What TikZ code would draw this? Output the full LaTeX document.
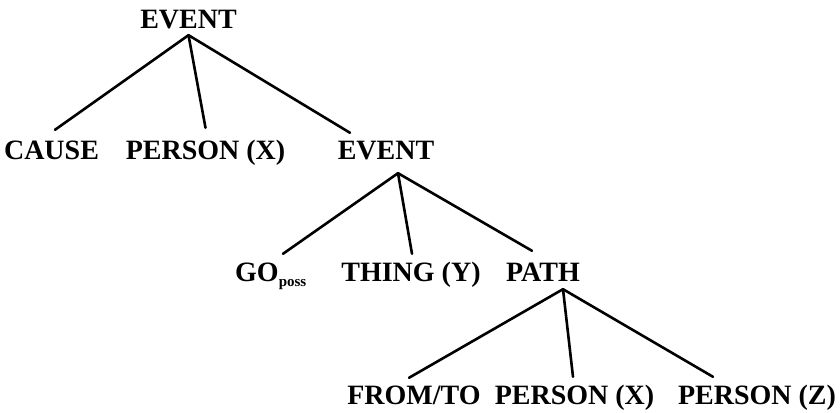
\documentclass[tikz,border=0pt]{standalone}
\usepackage{fontspec}
\setmainfont{Liberation Serif}
\begin{document}
\begin{tikzpicture}[x=1pt,y=-1pt,
  lab/.style={inner sep=0pt,anchor=base,text height=19pt,text depth=0pt,
    font=\fontsize{28}{30}\selectfont\bfseries},
  branch/.style={line width=2.6pt,line cap=round}]
\useasboundingbox (0,0) rectangle (840,412);
% top level
\node[lab] (ev1) at (188.5,29) {EVENT};
\node[lab] (cause) at (51.5,159) {CAUSE};
\node[lab] (px1) at (205.5,159) {PERSON (X)};
\node[lab] (ev2) at (386,159) {EVENT};
% second level
\node[lab,anchor=base west] (go) at (235,281) {GO\raisebox{-5pt}{\fontsize{15}{15}\selectfont poss}};
\node[lab] (thy) at (411,281) {THING (Y)};
\node[lab] (path) at (543,281) {PATH};
% third level
\node[lab] (fromto) at (414,404) {FROM/TO};
\node[lab] (px2) at (574.5,404) {PERSON (X)};
\node[lab] (pz) at (757,404) {PERSON (Z)};
% branches
\draw[branch] ([yshift=-6pt]ev1.south) -- ([xshift=3.5pt,yshift=10pt]cause.north);
\draw[branch] ([yshift=-6pt]ev1.south) -- ([yshift=12pt]px1.north);
\draw[branch] ([yshift=-6pt]ev1.south) -- ([xshift=-36pt,yshift=7pt]ev2.north);
\draw[branch] ([xshift=12pt,yshift=-14pt]ev2.south) -- ([xshift=48pt,yshift=8pt]go.north west);
\draw[branch] ([xshift=12pt,yshift=-14pt]ev2.south) -- ([xshift=1pt,yshift=8pt]thy.north);
\draw[branch] ([xshift=12pt,yshift=-14pt]ev2.south) -- ([xshift=-11pt,yshift=11pt]path.north);
\draw[branch] ([xshift=20pt,yshift=-8pt]path.south) -- ([xshift=-5pt,yshift=7pt]fromto.north);
\draw[branch] ([xshift=20pt,yshift=-8pt]path.south) -- ([xshift=-1.5pt,yshift=8pt]px2.north);
\draw[branch] ([xshift=20pt,yshift=-8pt]path.south) -- ([xshift=-44pt,yshift=8pt]pz.north);
\end{tikzpicture}
\end{document}
